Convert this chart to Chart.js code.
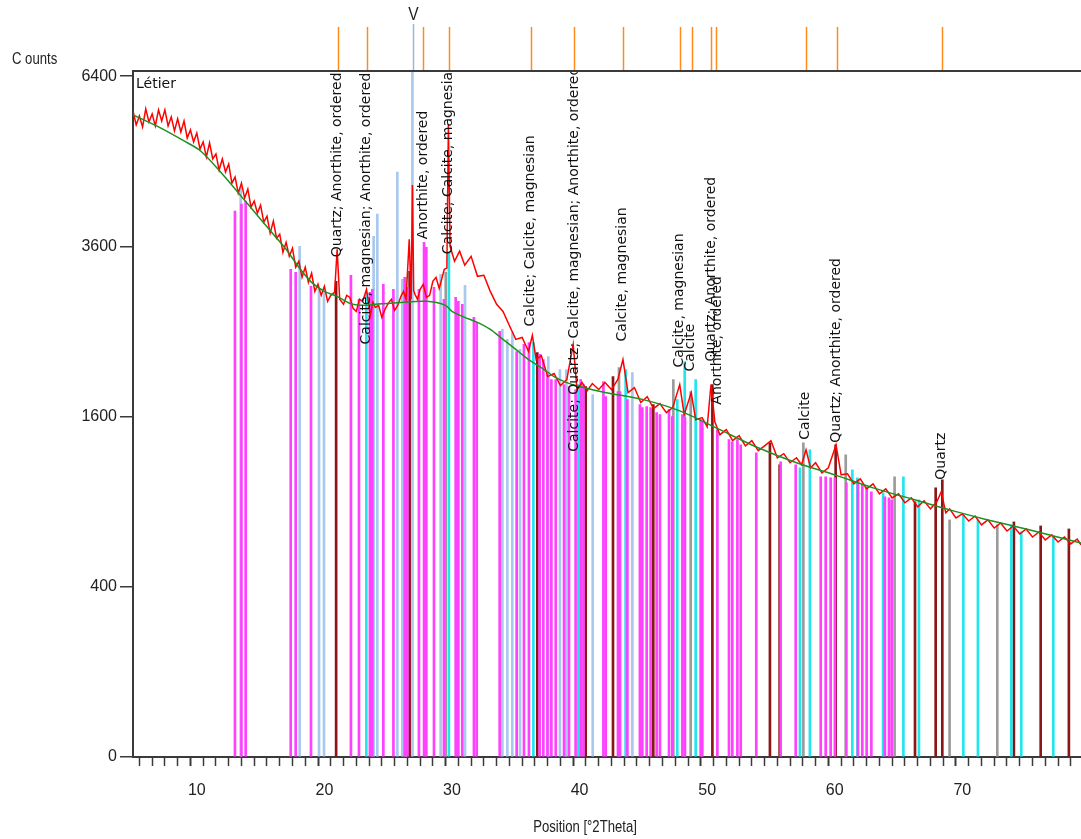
<!DOCTYPE html>
<html lang="fr">
<head>
<meta charset="UTF-8">
<title>Létier</title>
<script src="https://cdn.jsdelivr.net/npm/chart.js@4.4.1/dist/chart.umd.min.js"></script>
<style>
  html, body { margin: 0; padding: 0; background: #fff; }
  #wrap { width: 1081px; height: 839px; }
</style>
</head>
<body>
<div id="wrap"><canvas id="grafica"></canvas></div>
<script>
// Observed pattern (position in °2Theta, counts)
const obsPos = [5.0,5.25,5.5,5.75,6.0,6.25,6.5,6.75,7.0,7.25,7.5,7.75,8.0,8.25,8.5,8.75,9.0,9.25,9.5,9.75,
  10.0,10.25,10.5,10.75,11.0,11.25,11.5,11.75,12.0,12.25,12.5,12.75,13.0,13.25,13.5,13.75,14.0,14.25,14.5,14.75,
  15.0,15.25,15.5,15.75,16.0,16.25,16.5,16.75,17.0,17.25,17.5,17.75,18.0,18.25,18.5,18.75,19.0,19.25,19.5,19.75,
  20.0,20.25,20.5,20.8,21.0,21.2,21.5,21.75,22.0,22.25,22.5,22.75,23.0,23.3,
  23.6,23.8,24.0,24.25,24.5,24.75,25.0,25.25,25.5,25.75,26.0,26.2,26.4,26.65,26.8,26.9,27.0,27.1,27.3,27.5,27.75,28.0,28.25,28.5,28.75,29.0,29.4,29.6,29.72,29.85,
  30.2,30.6,31.0,31.5,32.0,32.5,33.0,33.5,34.0,34.5,35.0,35.5,36.0,36.3,36.6,37.0,37.5,38.0,38.5,39.0,
  39.5,39.8,40.2,40.6,41.0,41.5,42.0,42.5,43.0,43.4,43.8,44.3,44.8,45.3,45.8,46.3,46.8,47.3,47.85,48.2,
  48.75,49.1,49.6,50.0,50.3,50.6,51.0,51.5,52.0,52.5,53.0,53.5,54.0,54.5,55.0,55.5,56.0,56.5,57.0,57.4,
  57.75,58.1,58.5,59.0,59.5,60.1,60.5,61.0,61.5,62.0,62.5,63.0,63.5,64.0,64.5,65.0,65.5,66.0,66.5,67.0,
  67.5,68.0,68.35,68.7,69.0,69.5,70.0,70.5,71.0,71.5,72.0,72.5,73.0,73.5,74.0,74.5,75.0,75.5,76.0,76.5,
  77.0,77.5,78.0,78.5,79.0,79.3];
const obsCounts = [5763,5515,5673,5480,5799,5568,5709,5498,5781,5585,5781,5498,5656,5411,5621,5393,5585,5290,5428,5222,
  5376,5103,5222,4969,5205,4937,5020,4756,4937,4724,4855,4547,4643,4389,4547,4312,4452,4174,4266,4083,
  4204,3949,4038,3788,3964,3715,3773,3517,3658,3461,3573,3311,3392,3176,3311,3110,3230,2993,3085,2942,
  3058,2866,2942,2980,3559,2892,2829,2942,2916,2778,2741,2892,2866,3020,
  2692,2853,2791,2816,2668,2766,2841,2892,2753,2816,2929,2993,2892,3701,2892,4516,3000,2955,2892,3020,3085,2916,2942,3124,3176,3032,3284,3300,5533,3600,
  3392,3531,3338,3461,3190,3203,2993,2829,2741,2571,2407,2430,2270,2453,2181,2225,1998,2030,1904,1967,
  2350,1864,1935,1853,1925,1864,1935,1864,1967,2181,1833,1884,1734,1793,1675,1724,1637,1685,1915,1618,
  1833,1571,1590,1506,1915,1552,1434,1479,1381,1425,1337,1381,1295,1337,1381,1236,1270,1195,1236,1179,
  1303,1155,1195,1115,1155,1346,1099,1107,1030,1068,993,1030,956,993,927,956,892,927,864,906,
  850,899,971,823,850,789,816,769,802,744,776,724,756,705,737,687,718,668,699,650,
  681,638,668,627,656,621];

// Background curve
const bgPos = [5,7,9,10.3,12,14,16,17,18,19,20,21,22,23,24,26,28,29.5,30,31,32,33,34,35,36,37,38,39,40,42,45,48,51,54,57,60,63,66,69,72,75,79.3];
const bgCounts = [5691,5480,5239,5070,4692,4220,3773,3559,3311,3110,2993,2929,2841,2816,2829,2853,2866,2816,2741,2668,2607,2524,2407,2293,2181,2094,1998,1935,1894,1833,1763,1647,1479,1320,1195,1099,1000,920,843,776,718,632];

// Reference patterns (stick positions and heights)
const anorthitePos = [12.99,13.50,13.83,17.36,17.75,18.95,22.08,22.71,23.57,23.76,24.62,25.41,26.29,26.50,27.41,27.81,27.99,28.59,29.37,30.29,
  30.50,30.81,31.72,31.94,33.74,35.07,35.64,36.03,36.87,37.16,37.48,37.79,38.13,38.78,39.17,39.69,40.09,40.30,41.87,42.05,
  43.01,43.17,43.75,44.73,44.92,45.26,45.57,46.04,46.30,47.01,47.27,48.06,48.26,49.49,49.62,50.80,51.71,51.97,52.37,52.63,
  53.85,55.76,56.94,58.90,59.29,59.68,60.01,60.91,61.82,62.16,62.50,62.87,63.93,64.25,64.46];
const anorthiteH = [4113,4220,4266,3284,3243,3058,3203,2892,2980,3020,3085,3020,3176,3045,3020,3658,3587,3045,2892,2916,
  2866,2829,2668,2607,2500,2270,2350,2372,2237,2181,2019,1967,1967,1915,1894,1864,1967,1915,1946,1793,
  1843,1843,1763,1714,1685,1695,1685,1637,1618,1666,1599,1618,1590,1571,1552,1479,1390,1372,1390,1346,
  1278,1203,1179,1084,1084,1076,1076,1038,1061,1023,1000,971,934,927,913];
const otherPos = [13.44,18.06,19.58,19.97,23.86,24.15,25.72,26.11,26.37,26.90,29.11,31.02,33.95,34.34,34.73,35.33,37.55,38.46,38.96,41.03,44.14];
const otherH = [4484,3601,3020,2980,3744,4068,4724,3150,3176,6600,3216,3071,2524,2407,2488,2293,2214,2073,2073,1813,2040];
const calcitePos = [23.29,29.76,36.38,39.90,43.61,47.66,48.24,49.10,57.27,58.05,61.38,61.77,63.79,65.38,66.60,70.08,71.22,73.84,74.62,77.13];
const calciteH = [2980,3517,2372,1915,2073,1763,2159,1967,1155,1303,1139,1076,963,1084,913,809,776,744,699,668];
const quartzPos = [20.92,26.68,36.69,40.48,42.62,45.78,50.41,54.92,55.68,60.07,66.29,67.91,68.43,74.04,76.14,78.35];
const quartzH = [3124,3257,2259,1894,1998,1714,1915,1363,1179,1346,899,1000,1061,763,737,718];
const calciteMgPos = [29.51,43.09,47.35,48.71,57.54,60.86,64.69,69.00,72.74];
const calciteMgH = [3243,2094,1967,1843,1363,1261,1084,776,744];

// Peak list (top markers) and identified peak labels
const markerPos = [21.04,23.31,27.70,29.74,36.21,39.54,43.38,47.85,48.79,50.27,50.67,57.72,60.15,68.38];
const cursorPos = 26.92;
const peakNames = ["Quartz; Anorthite, ordered","Calcite, magnesian; Anorthite, ordered","Anorthite, ordered",
  "Calcite; Calcite, magnesian","Calcite; Calcite, magnesian","Calcite; Quartz; Calcite, magnesian; Anorthite, ordered",
  "Calcite, magnesian","Calcite, magnesian","Calcite","Quartz; Anorthite, ordered","Anorthite, ordered","Calcite",
  "Quartz; Anorthite, ordered","Quartz"];
const peakPos = [21.04,23.31,27.78,29.74,36.17,39.62,43.38,47.85,48.71,50.35,50.82,57.72,60.15,68.38];
const peakBase = [3448,2350,3701,3490,2559,1286,2384,2094,2051,2159,1714,1390,1363,1061];

const yTicks = [0, 400, 1600, 3600, 6400];

// escala raiz cuadrada: se grafica sqrt(counts)
const pts = (xs, ys) => xs.map((v, i) => ({x: v, y: Math.sqrt(ys[i])}));
const sticks = (xs, ys, color, w) => ({
  type: 'bar', data: pts(xs, ys), backgroundColor: color, borderWidth: 0,
  barThickness: w, grouped: false, order: 3
});

const sans = '"Liberation Sans", Arial, sans-serif';

// texto estrecho (la fuente original es condensada)
function narrowText(ctx, txt, x, y, align) {
  ctx.save();
  ctx.translate(x, y);
  ctx.scale(0.82, 1);
  ctx.textAlign = align;
  ctx.fillText(txt, 0, 0);
  ctx.restore();
}

const decor = {
  id: 'decor',
  afterDraw(chart) {
    const {ctx, chartArea: a, scales: {x, y}} = chart;
    ctx.save();
    // borde superior
    ctx.strokeStyle = '#3a3a3a';
    ctx.lineWidth = 2;
    ctx.beginPath(); ctx.moveTo(a.left, a.top); ctx.lineTo(a.right, a.top); ctx.stroke();
    // marcadores de picos
    ctx.strokeStyle = '#ff8c1a';
    ctx.lineWidth = 1.5;
    markerPos.forEach(p => {
      const px = Math.round(x.getPixelForValue(p)) + 0.5;
      ctx.beginPath(); ctx.moveTo(px, 27); ctx.lineTo(px, a.top - 1); ctx.stroke();
    });
    const cx = Math.round(x.getPixelForValue(cursorPos)) + 0.5;
    ctx.strokeStyle = '#9fb6d6';
    ctx.beginPath(); ctx.moveTo(cx, 24); ctx.lineTo(cx, a.top - 1); ctx.stroke();
    ctx.fillStyle = '#222';
    ctx.font = '19px ' + sans;
    ctx.textBaseline = 'middle';
    narrowText(ctx, 'V', cx, 15, 'center');

    // textos fuera del area
    ctx.font = '16px ' + sans;
    narrowText(ctx, 'C ounts', 12, 60, 'left');
    narrowText(ctx, 'Position [°2Theta]', 585, 828, 'center');

    // etiquetas de fases, recortadas al area
    ctx.beginPath(); ctx.rect(a.left, a.top + 1, a.right - a.left, a.bottom - a.top); ctx.clip();
    ctx.fillStyle = '#111';
    ctx.font = '14px "DejaVu Sans", sans-serif';
    ctx.textAlign = 'left';
    ctx.fillText('Létier', a.left + 3, a.top + 13);
    peakNames.forEach((t, i) => {
      const px = x.getPixelForValue(peakPos[i]);
      const py = y.getPixelForValue(Math.sqrt(peakBase[i]));
      ctx.save();
      ctx.translate(px, py);
      ctx.rotate(-Math.PI / 2);
      ctx.fillText(t, 0, 0);
      ctx.restore();
    });
    ctx.restore();
  }
};

const chart = new Chart(document.getElementById('grafica'), {
  type: 'line',
  data: {
    datasets: [
      {data: pts(bgPos, bgCounts), borderColor: '#1f8f1f', borderWidth: 1.5, pointRadius: 0, tension: 0.3, order: 0},
      {data: pts(obsPos, obsCounts), borderColor: '#ff0000', borderWidth: 1.5, pointRadius: 0, tension: 0, order: 1},
      sticks(anorthitePos, anorthiteH, '#ff40ff', 2),
      sticks(otherPos, otherH, '#a9c8ee', 2),
      sticks(calcitePos, calciteH, '#22e6ee', 2),
      sticks(calciteMgPos, calciteMgH, '#9b9b9b', 2),
      sticks(quartzPos, quartzH, '#8a1616', 2)
    ]
  },
  options: {
    responsive: true,
    maintainAspectRatio: false,
    animation: false,
    layout: {padding: {top: 71, right: 0, bottom: 0, left: 0}},
    plugins: {legend: {display: false}, tooltip: {enabled: false}},
    scales: {
      x: {
        type: 'linear', min: 5, max: 79.3, offset: false,
        afterFit: s => { s.height = 82; s.paddingRight = 0; s.paddingLeft = 0; },
        border: {color: '#3a3a3a', width: 2},
        grid: {drawOnChartArea: false, tickLength: 9, color: '#3a3a3a', tickWidth: c => (c.tick && c.tick.value % 10 === 0) ? 2 : 1.5},
        ticks: {
          stepSize: 1, autoSkip: false, maxRotation: 0, includeBounds: false, padding: 15,
          color: '#222', font: {family: sans, size: 16},
          callback: v => (v % 10 === 0 ? String(v) : '')
        }
      },
      y: {
        type: 'linear', min: 0, max: 80.6,
        afterFit: s => { s.width = 133; },
        border: {color: '#3a3a3a', width: 2},
        grid: {drawOnChartArea: false, tickLength: 13, color: '#3a3a3a', lineWidth: 1.5},
        afterBuildTicks: s => { s.ticks = yTicks.map(v => ({value: Math.sqrt(v)})); },
        ticks: {
          padding: 3, color: '#222', font: {family: sans, size: 16},
          callback: v => String(Math.round(v * v))
        }
      }
    }
  },
  plugins: [decor]
});
</script>
</body>
</html>
